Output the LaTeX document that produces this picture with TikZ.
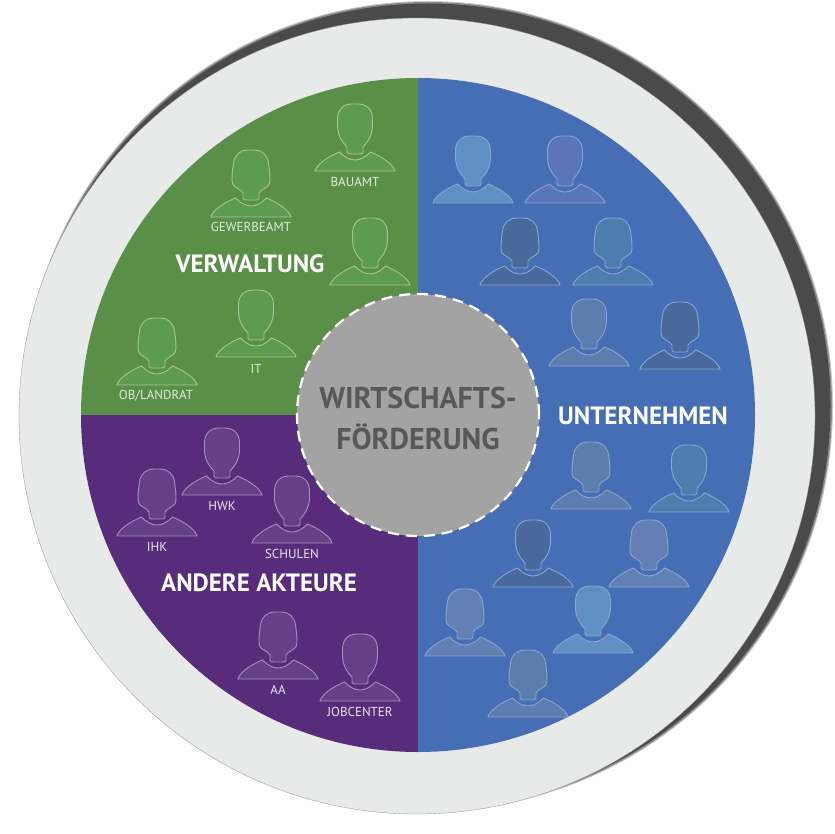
\documentclass[tikz,border=0pt]{standalone}
\usepackage{fontspec}
\setmainfont{PT Sans}
\definecolor{RingGrey}{RGB}{232,234,234}
\definecolor{ShadowGrey}{RGB}{74,74,74}
\definecolor{CoreGrey}{RGB}{163,163,163}
\definecolor{CoreText}{RGB}{88,88,88}
\definecolor{AdminGreen}{RGB}{90,143,71}
\definecolor{AdminFig}{RGB}{93,154,82}
\definecolor{AdminLine}{RGB}{165,200,154}
\definecolor{OtherPurple}{RGB}{87,45,123}
\definecolor{OtherFig}{RGB}{101,63,135}
\definecolor{OtherLine}{RGB}{165,145,190}
\definecolor{FirmBlue}{RGB}{70,110,180}
\definecolor{FirmLine}{RGB}{140,165,210}
\definecolor{FirmLight}{RGB}{96,143,195}
\definecolor{FirmViolet}{RGB}{90,118,187}
\definecolor{FirmDark}{RGB}{71,105,155}
\definecolor{FirmTeal}{RGB}{79,125,173}
\definecolor{FirmSlate}{RGB}{91,126,174}
\definecolor{FirmDusk}{RGB}{98,128,180}
\tikzset{
  manfig/.pic={
    \path[pic actions] (-40,0) .. controls (-39,-5) and (-30,-13) .. (-15.5,-19)
      .. controls (-11,-14) and (-5,-11) .. (0,-11)
      .. controls (5,-11) and (11,-14) .. (15.5,-19)
      .. controls (30,-13) and (39,-5) .. (40,0) -- cycle;
    \path[pic actions] (-8,-19) -- (-8,-24) .. controls (-14,-30) and (-17.5,-37) .. (-17.5,-46)
      -- (-17.5,-52) .. controls (-17.5,-62) and (-11,-67) .. (-3,-67) -- (3,-67)
      .. controls (11,-67) and (17.5,-62) .. (17.5,-52) -- (17.5,-46)
      .. controls (17.5,-37) and (14,-30) .. (8,-24) -- (8,-19)
      .. controls (8,-17) and (6,-17) .. (4,-17) -- (-4,-17)
      .. controls (-6,-17) and (-8,-17) .. (-8,-19) -- cycle;
  },
  womanfig/.pic={
    \path[pic actions] (-40,0) .. controls (-39,-5) and (-30,-13) .. (-15.5,-19)
      .. controls (-11,-14) and (-5,-11) .. (0,-11)
      .. controls (5,-11) and (11,-14) .. (15.5,-19)
      .. controls (30,-13) and (39,-5) .. (40,0) -- cycle;
    \path[pic actions] (-8,-19) -- (-8,-24) .. controls (-9,-26) and (-11,-27) .. (-14,-29)
      .. controls (-18,-31) and (-19,-33) .. (-19,-38) .. controls (-19,-45) and (-18,-50) .. (-17.5,-54)
      .. controls (-16.5,-62) and (-11,-67) .. (-3,-67) -- (3,-67)
      .. controls (11,-67) and (16.5,-62) .. (17.5,-54) .. controls (18,-50) and (19,-45) .. (19,-38)
      .. controls (19,-33) and (18,-31) .. (14,-29) .. controls (11,-27) and (9,-26) .. (8,-24) -- (8,-19)
      .. controls (8,-17) and (6,-17) .. (4,-17) -- (-4,-17)
      .. controls (-6,-17) and (-8,-17) .. (-8,-19) -- cycle;
  },
  adminperson/.style={draw=AdminLine, fill=AdminFig, line width=0.9pt},
  otherperson/.style={draw=OtherLine, fill=OtherFig, line width=0.9pt},
  firmperson/.style={draw=FirmLine, line width=0.9pt},
  sectorlabel/.style={font=\fontsize{25}{25}\selectfont\bfseries, text=white, inner sep=0pt},
  rolelabel/.style={font=\fontsize{13}{13}\selectfont, inner sep=0pt},
  corecircle/.style={circle, fill=CoreGrey, draw=white, line width=2.2pt,
    dash pattern=on 11pt off 7pt, minimum size=242pt, inner sep=0pt},
  coretext/.style={align=center, inner sep=0pt, text=CoreText,
    font=\fontsize{30}{41}\selectfont\bfseries}
}
\begin{document}
\begin{tikzpicture}[x=1pt,y=-1pt]
  \useasboundingbox (0,0) rectangle (835,834);
  % ring and its shadow
  \fill[ShadowGrey!30] (428,406) circle (405pt);
  \fill[ShadowGrey!65] (428,406) circle (404pt);
  \fill[ShadowGrey] (428,406) circle (402.5pt);
  \fill[RingGrey] (417,416) circle (398pt);
  \draw[black!45, line width=0.3pt] (417,416) circle (398pt);
  % the four sectors
  \begin{scope}
    \clip (418,415) circle (337pt);
    \fill[AdminGreen] (70,70) rectangle (418,415);
    \fill[OtherPurple] (70,415) rectangle (418,760);
    \fill[FirmBlue] (418,70) rectangle (760,760);
  \end{scope}
  % people
  \pic[adminperson] at (355,171) {manfig};
  \pic[adminperson] at (251,217) {womanfig};
  \pic[adminperson] at (370,285) {manfig};
  \pic[adminperson] at (256,357) {manfig};
  \pic[adminperson] at (157,385) {womanfig};
  \pic[otherperson] at (222,495) {manfig};
  \pic[otherperson] at (157,536) {womanfig};
  \pic[otherperson] at (292,543) {manfig};
  \pic[otherperson] at (278,679) {womanfig};
  \pic[otherperson] at (360,701) {manfig};
  \foreach \px/\py/\pcol in {473/203/FirmLight, 565/203/FirmViolet, 589/366/FirmSlate,
      689/512/FirmTeal, 533/587/FirmDark, 593/653/FirmLight}
    \pic[firmperson, fill=\pcol] at (\px,\py) {manfig};
  \foreach \px/\py/\pcol in {520/285/FirmDark, 613/285/FirmTeal, 680/369/FirmDark,
      591/509/FirmSlate, 649/587/FirmDusk, 465/656/FirmDusk, 528/717/FirmSlate}
    \pic[firmperson, fill=\pcol] at (\px,\py) {womanfig};
  % labels
  \node[rolelabel, text=AdminLine!35!white] (bauamt) at (355,182) {BAUAMT};
  \node[rolelabel, text=AdminLine!35!white] (gewerbeamt) at (251,227) {GEWERBEAMT};
  \node[rolelabel, text=AdminLine!35!white] (it) at (256,369) {IT};
  \node[rolelabel, text=AdminLine!35!white] (oblandrat) at (156,396) {OB/LANDRAT};
  \node[rolelabel, text=OtherLine!25!white] (hwk) at (222,506) {HWK};
  \node[rolelabel, text=OtherLine!25!white] (ihk) at (157,547) {IHK};
  \node[rolelabel, text=OtherLine!25!white] (schulen) at (292,554) {SCHULEN};
  \node[rolelabel, text=OtherLine!25!white] (aa) at (278,690) {AA};
  \node[rolelabel, text=OtherLine!25!white] (jobcenter) at (360,712) {JOBCENTER};
  \node[sectorlabel] (verwaltung) at (250,264) {VERWALTUNG};
  \node[sectorlabel] (akteure) at (259,583) {ANDERE AKTEURE};
  \node[sectorlabel] (unternehmen) at (643,416) {UNTERNEHMEN};
  \node[corecircle] (wifoe) at (418,415) {};
  \node[coretext] (wifoetext) at (418,418) {WIRTSCHAFTS-\\FÖRDERUNG};
\end{tikzpicture}
\end{document}
